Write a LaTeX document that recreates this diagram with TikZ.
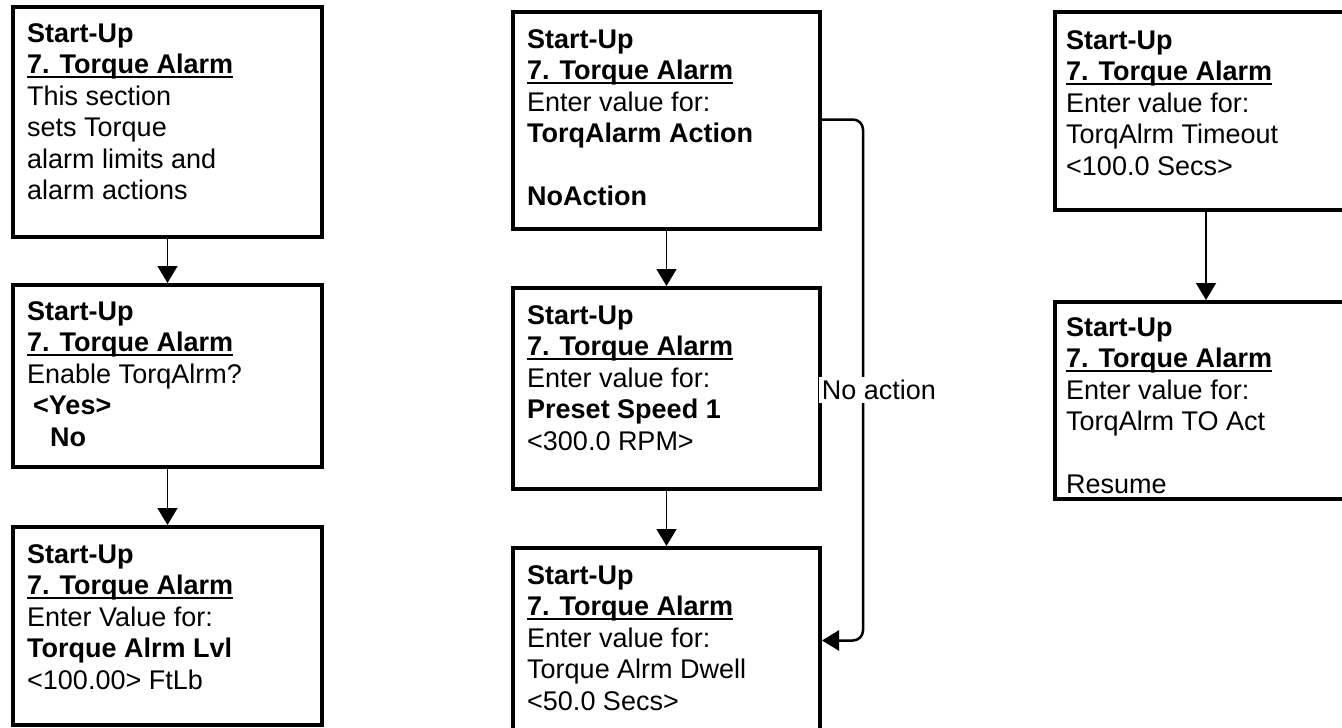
\documentclass[tikz,border=0pt]{standalone}
\usepackage{fontspec}
\setmainfont{Liberation Sans}
\usetikzlibrary{arrows.meta,calc}
\newcommand\ulx[1]{\setbox0\hbox{#1}\rlap{\rule[-4pt]{\wd0}{2pt}}\box0}
\newcommand\hd{\rule{0pt}{20pt}\textbf{Start-Up}\\\textbf{\ulx{7. Torque Alarm}}}
\tikzset{
  x=1pt,y=-1pt,
  scrbox/.style={draw=black,line width=4pt,rectangle,anchor=north west,inner sep=0pt},
  scrtext/.style={anchor=north west,inner sep=0pt,align=left,font=\fontsize{27}{31.5}\selectfont},
  conn/.style={draw=black,line width=1.5pt,-{Triangle[width=20pt,length=17pt]}},
  lbl/.style={fill=white,inner sep=3pt,font=\fontsize{27}{31.5}\selectfont}
}
\begin{document}
\begin{tikzpicture}
\useasboundingbox (0,0) rectangle (1342,728);
\clip (0,0) rectangle (1342,728);
\fill[white] (0,0) rectangle (1342,728);
% left column
\node[scrbox,minimum width=309pt,minimum height=230pt] (L1) at (11,5) {};
\node[scrtext] (L1t) at (27,22) {\hd\\This section\\sets Torque\\alarm limits and\\alarm actions};
\node[scrbox,minimum width=309pt,minimum height=182pt] (L2) at (11,283) {};
\node[scrtext] (L2t) at (27,300) {\hd\\Enable TorqAlrm?\\\hspace{6pt}\textbf{<Yes>}\\\hspace{23pt}\textbf{No}};
\node[scrbox,minimum width=309pt,minimum height=198pt] (L3) at (11,525) {};
\node[scrtext] (L3t) at (27,543) {\hd\\Enter Value for:\\\textbf{Torque Alrm Lvl}\\<100.00> FtLb};
% middle column
\node[scrbox,minimum width=307pt,minimum height=217pt] (M1) at (511,10) {};
\node[scrtext] (M1t) at (527,28) {\hd\\Enter value for:\\\textbf{TorqAlarm Action}\\[31.5pt]\textbf{NoAction}};
\node[scrbox,minimum width=307pt,minimum height=201pt] (M2) at (511,286) {};
\node[scrtext] (M2t) at (527,304) {\hd\\Enter value for:\\\textbf{Preset Speed 1}\\<300.0 RPM>};
\node[scrbox,minimum width=307pt,minimum height=205pt] (M3) at (511,546) {};
\node[scrtext] (M3t) at (527,564) {\hd\\Enter value for:\\Torque Alrm Dwell\\<50.0 Secs>};
% right column
\node[scrbox,minimum width=302pt,minimum height=198pt] (R1) at (1053,10) {};
\node[scrtext] (R1t) at (1066,29) {\hd\\Enter value for:\\TorqAlrm Timeout\\<100.0 Secs>};
\node[scrbox,minimum width=302pt,minimum height=197pt] (R2) at (1053,300) {};
\node[scrtext] (R2t) at (1066,316) {\hd\\Enter value for:\\TorqAlrm TO Act\\[31.5pt]Resume};
% connectors
\draw[conn] (L1.south) -- (L2.north);
\draw[conn] (L2.south) -- (L3.north);
\draw[conn] (M1.south) -- (M2.north);
\draw[conn] (M2.south) -- (M3.north);
\draw[conn] (R1.south) -- (R2.north);
\coordinate (na) at (863,0);
\draw[conn,line width=2.5pt,rounded corners=10pt] ([yshift=1pt]M1.east) -- ([yshift=1pt]M1.east -| na) -- ([yshift=10pt]M3.east -| na) -- ([yshift=10pt]M3.east);
\node[lbl] (NA) at (879,390) {No action};
\end{tikzpicture}
\end{document}
